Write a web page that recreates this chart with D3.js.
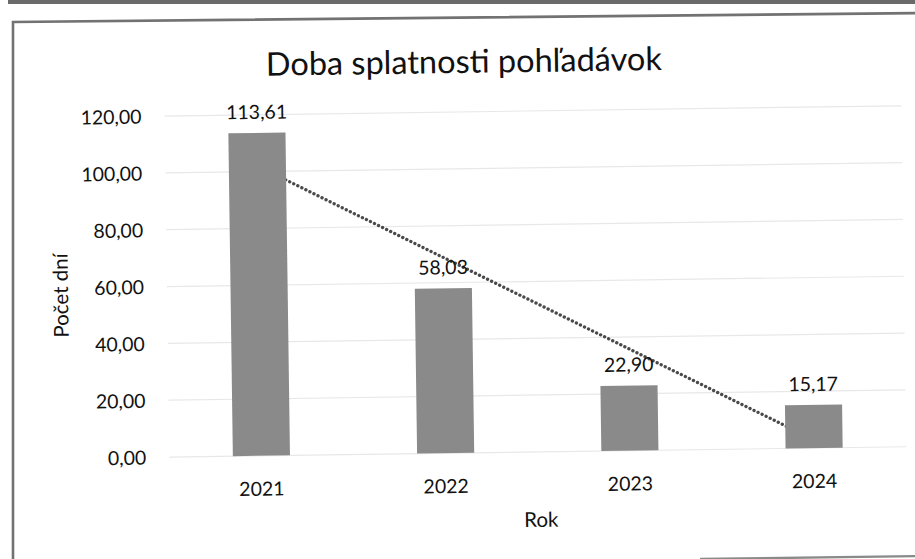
<!DOCTYPE html>
<html>
<head>
<meta charset="utf-8">
<script src="https://cdn.jsdelivr.net/npm/d3@7"></script>
<style>
  html, body { margin: 0; padding: 0; background: #fff; }
  svg { display: block; }
  text { font-family: Lato, "Open Sans", sans-serif; fill: #111; }
</style>
</head>
<body>
<svg id="chart" width="915" height="559"></svg>
<script>
// Data
const years = ["2021", "2022", "2023", "2024"];
const days = [113.61, 58.03, 22.90, 15.17];
const yTicks = [0, 20, 40, 60, 80, 100, 120];
const chartTitle = "Doba splatnosti pohľadávok";
const xTitle = "Rok";
const yTitle = "Počet dní";

const W = 915, H = 559;
const svg = d3.select("#chart");

// scanner edge strip at the top
svg.append("rect").attr("x", 8).attr("y", 0).attr("width", W).attr("height", 4)
  .attr("fill", "#6a6a6a");

// chart frame
svg.append("path")
  .attr("d", "M13,566 L13,22 L925,13")
  .attr("fill", "none").attr("stroke", "#727272").attr("stroke-width", 2.6);
svg.append("path")
  .attr("d", "M700,559 L925,556")
  .attr("fill", "none").attr("stroke", "#8a8a8a").attr("stroke-width", 2.4);

// the printed chart sits slightly tilted on the page
const g = svg.append("g").attr("transform", "rotate(-0.8, 457, 290)");

const plot = { left: 167, right: 904, top: 112, bottom: 453 };

const x = d3.scaleBand().domain(years).range([plot.left, plot.right]).paddingInner(0.69).paddingOuter(0.345);
const y = d3.scaleLinear().domain([0, 120]).range([plot.bottom, plot.top]);

const fmt = v => d3.format(".2f")(v).replace(".", ",");

// gridlines
g.append("g").selectAll("line").data(yTicks).join("line")
  .attr("x1", plot.left).attr("x2", plot.right)
  .attr("y1", d => y(d)).attr("y2", d => y(d))
  .attr("stroke", "#e8e8e8").attr("stroke-width", 1.2);

// y axis labels
const yAxis = d3.axisLeft(y).tickValues(yTicks).tickFormat(fmt).tickSize(0).tickPadding(0);
const ya = g.append("g").attr("transform", `translate(${plot.left - 23},0)`).call(yAxis);
ya.select(".domain").remove();
ya.selectAll("text").style("font-family", "Lato, sans-serif").attr("font-size", 19.5).attr("fill", "#111").attr("dy", "0.35em");

// linear trendline (least squares over category index), drawn behind the bars
const n = days.length;
const xi = d3.range(1, n + 1);
const mx = d3.mean(xi), my = d3.mean(days);
const slope = d3.sum(xi, (v, i) => (v - mx) * (days[i] - my)) / d3.sum(xi, v => (v - mx) ** 2);
const icpt = my - slope * mx;
const cx = i => x(years[i]) + x.bandwidth() / 2;
const trend = [0, n - 1].map(i => [cx(i), y(icpt + slope * (i + 1))]);
g.append("path")
  .attr("d", d3.line()(trend))
  .attr("fill", "none").attr("stroke", "#4a4a4a").attr("stroke-width", 3.3)
  .attr("stroke-linecap", "round").attr("stroke-dasharray", "0.1 4.4");

// bars
g.append("g").selectAll("rect").data(days).join("rect")
  .attr("x", (d, i) => x(years[i])).attr("width", x.bandwidth())
  .attr("y", d => y(d)).attr("height", d => y(0) - y(d))
  .attr("fill", "#8a8a8a");

// value labels
g.append("g").selectAll("text").data(days).join("text")
  .attr("x", (d, i) => cx(i)).attr("y", d => y(d) - 14)
  .attr("text-anchor", "middle").attr("font-size", 19.5)
  .text(d => fmt(d));

// x axis labels
const xAxis = d3.axisBottom(x).tickSize(0).tickPadding(0);
const xa = g.append("g").attr("transform", `translate(0,${plot.bottom})`).call(xAxis);
xa.select(".domain").remove();
xa.selectAll("text").style("font-family", "Lato, sans-serif").attr("font-size", 19.5).attr("fill", "#111").attr("dy", 0).attr("y", 40);

// titles
g.append("text").attr("x", 467).attr("y", 73).attr("text-anchor", "middle")
  .attr("font-size", 32.5).text(chartTitle);
g.append("text").attr("x", 538).attr("y", 528).attr("text-anchor", "middle")
  .attr("font-size", 20.5).text(xTitle);
g.append("text").attr("transform", "translate(68,290) rotate(-90)").attr("text-anchor", "middle")
  .attr("font-size", 20.5).text(yTitle);
</script>
</body>
</html>
